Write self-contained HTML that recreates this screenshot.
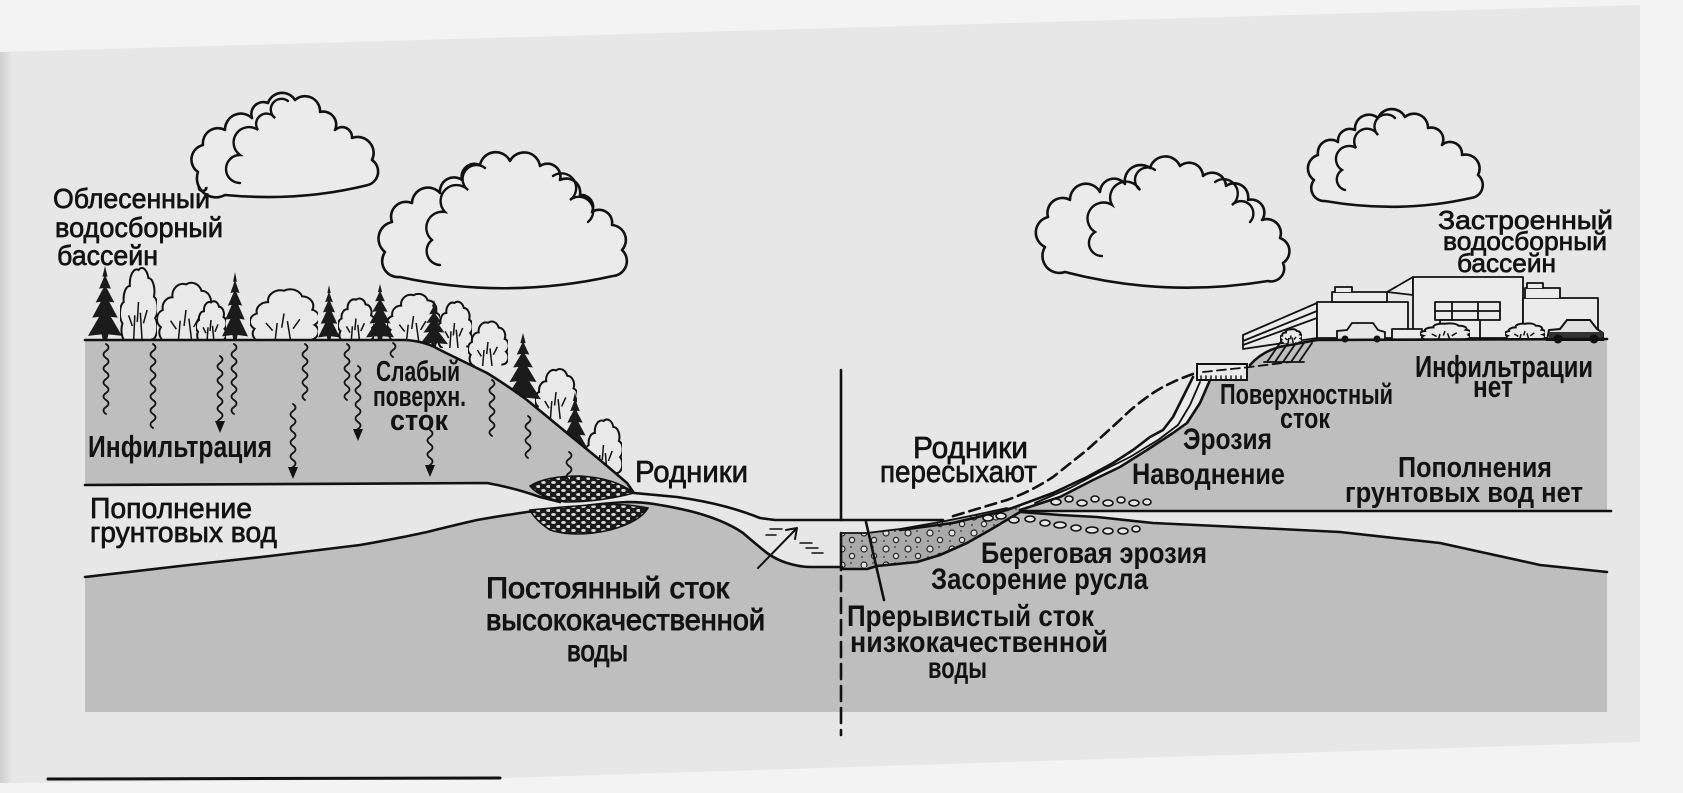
<!DOCTYPE html>
<html><head><meta charset="utf-8">
<style>
html,body{margin:0;padding:0;background:#f3f3f3;}
svg{display:block;}
.r{font-family:"Liberation Sans Narrow","Liberation Sans",sans-serif;fill:#121212;stroke:#121212;stroke-width:0.7;}
.b{font-family:"Liberation Sans Narrow","Liberation Sans",sans-serif;font-weight:bold;fill:#121212;}
.ln{fill:none;stroke:#111;stroke-width:2.6;stroke-linejoin:round;stroke-linecap:round;}
.th{fill:none;stroke:#111;stroke-width:1.8;stroke-linejoin:round;stroke-linecap:round;}
.cl{fill:#ebebeb;stroke:#111;stroke-width:2.6;stroke-linejoin:round;}
.ci{fill:none;stroke:#111;stroke-width:2.4;stroke-linecap:round;}
</style></head><body>
<svg width="1683" height="793" viewBox="0 0 1683 793" xmlns="http://www.w3.org/2000/svg">
<defs>
<symbol id="con" viewBox="0 0 40 100" preserveAspectRatio="none"><path d="M20,0 L23,14 L21,14 L27,30 L22,29 L31,48 L25,47 L35,68 L27,67 L40,92 L24,90 L22,100 L18,100 L16,90 L0,92 L13,67 L5,68 L15,47 L9,48 L18,29 L13,30 L19,14 L17,14 Z" fill="#1b1b1b"/></symbol>
<symbol id="bush" viewBox="0 0 60 60" preserveAspectRatio="none"><path d="M10,60 A9,9 0 0 1 4,46 A9,9 0 0 1 6,30 A10,10 0 0 1 16,18 A11,11 0 0 1 30,6 A11,11 0 0 1 46,12 A10,10 0 0 1 55,26 A9,9 0 0 1 57,42 A9,9 0 0 1 50,58" fill="#e9e9e9" stroke="#111" stroke-width="2" vector-effect="non-scaling-stroke"/><path d="M22,60 L24,40 M36,60 L33,38 M28,45 L30,30 M14,40 L20,48 M44,36 L38,46" stroke="#111" stroke-width="1.5" fill="none" vector-effect="non-scaling-stroke"/></symbol>
<pattern id="peb" width="10" height="8" patternUnits="userSpaceOnUse"><rect width="10" height="8" fill="#1a1a1a"/><ellipse cx="3.5" cy="2.5" rx="2.3" ry="1.5" fill="#d8d8d8"/><ellipse cx="8.5" cy="6.5" rx="2.3" ry="1.5" fill="#d8d8d8"/></pattern>
<pattern id="sed" width="22" height="16" patternUnits="userSpaceOnUse"><rect width="22" height="16" fill="#a9a9a9"/><circle cx="6" cy="5" r="3" fill="#e0e0e0" stroke="#222" stroke-width="1.2"/><circle cx="16" cy="12" r="2.6" fill="#e0e0e0" stroke="#222" stroke-width="1.2"/><circle cx="15" cy="3" r="0.9" fill="#333"/><circle cx="4" cy="13" r="0.9" fill="#333"/></pattern>
<linearGradient id="edge" x1="0" x2="1" y1="0" y2="0"><stop offset="0" stop-color="#cfcfcf"/><stop offset="1" stop-color="#e7e7e7"/></linearGradient>
</defs>

<!-- paper -->
<polygon points="0,52 1640,5 1640,742 505,778 20,783 0,783" fill="#e7e7e7"/>
<rect x="0" y="52" width="12" height="731" fill="url(#edge)"/>

<!-- clouds -->
<path class="cl" d="M225,195 A19,19 0 0 1 198,172 A15,15 0 0 1 203,145 A15,15 0 0 1 225,130 A16,16 0 0 1 252,118 A12,12 0 0 1 268,103 A15,15 0 0 1 295,100 A15,15 0 0 1 320,112 A13,13 0 0 1 335,130 A10,10 0 0 1 352,138 A16,16 0 0 1 372,160 A14,14 0 0 1 368,185 Q300,202 225,195 Z"/>
<path class="ci" d="M288,101 A10,10 0 0 0 275,118 A10,10 0 0 0 258,130 A14,14 0 0 0 240,155 A14,14 0 0 0 240,183"/>

<path class="cl" d="M400,277 A16,16 0 0 1 385,252 A17,17 0 0 1 392,222 A15,15 0 0 1 412,203 A16,16 0 0 1 440,193 A14,14 0 0 1 462,180 A13,13 0 0 1 480,165 A16,16 0 0 1 510,161 A16,16 0 0 1 540,166 A13,13 0 0 1 560,180 A14,14 0 0 1 580,195 A12,12 0 0 1 592,212 A13,13 0 0 1 612,225 A15,15 0 0 1 622,250 A15,15 0 0 1 613,276 Q505,300 400,277 Z"/>
<path class="ci" d="M485,168 A12,12 0 0 0 468,190 A14,14 0 0 0 445,212 A16,16 0 0 0 432,240 A14,14 0 0 0 440,265"/>
<path class="ci" d="M553,176 A12,12 0 0 1 570,200 A12,12 0 0 1 588,222"/>

<path class="cl" d="M1065,272 A17,17 0 0 1 1045,247 A16,16 0 0 1 1048,217 A15,15 0 0 1 1070,200 A16,16 0 0 1 1100,192 A14,14 0 0 1 1125,184 A16,16 0 0 1 1150,168 A16,16 0 0 1 1180,166 A14,14 0 0 1 1203,176 A14,14 0 0 1 1226,186 A14,14 0 0 1 1248,200 A13,13 0 0 1 1262,220 A14,14 0 0 1 1280,238 A14,14 0 0 1 1283,263 A13,13 0 0 1 1268,281 Q1165,298 1065,272 Z"/>
<path class="ci" d="M1155,170 A12,12 0 0 0 1140,190 A13,13 0 0 0 1112,205 A15,15 0 0 0 1095,232 A13,13 0 0 0 1102,256"/>
<path class="ci" d="M1215,182 A12,12 0 0 1 1232,205 A12,12 0 0 1 1250,222"/>

<path class="cl" d="M1325,201 A13,13 0 0 1 1314,180 A14,14 0 0 1 1318,155 A13,13 0 0 1 1338,142 A12,12 0 0 1 1355,130 A14,14 0 0 1 1378,118 A15,15 0 0 1 1405,117 A14,14 0 0 1 1428,128 A12,12 0 0 1 1442,145 A12,12 0 0 1 1462,155 A14,14 0 0 1 1478,175 A13,13 0 0 1 1471,198 Q1400,214 1325,201 Z"/>
<path class="ci" d="M1395,118 A10,10 0 0 0 1378,135 A10,10 0 0 0 1356,148 A12,12 0 0 0 1342,170 A11,11 0 0 0 1345,190"/>

<!-- forest -->
<use href="#bush" x="120" y="262" width="37" height="80"/>
<use href="#bush" x="157" y="278" width="58" height="64"/>
<use href="#bush" x="196" y="298" width="30" height="44"/>
<use href="#bush" x="250" y="285" width="68" height="57"/>
<use href="#bush" x="338" y="295" width="36" height="47"/>
<use href="#bush" x="387" y="290" width="53" height="52"/>
<use href="#bush" x="437" y="298" width="35" height="50"/>
<use href="#bush" x="468" y="318" width="40" height="48"/>
<use href="#bush" x="535" y="365" width="42" height="54"/>
<use href="#bush" x="585" y="415" width="37" height="60"/>
<use href="#con" x="88" y="266" width="34" height="76"/>
<use href="#con" x="222" y="272" width="26" height="70"/>
<use href="#con" x="318" y="285" width="22" height="57"/>
<use href="#con" x="366" y="284" width="28" height="58"/>
<use href="#con" x="420" y="300" width="28" height="48"/>
<use href="#con" x="505" y="333" width="36" height="72"/>
<use href="#con" x="561" y="392" width="28" height="64"/>

<!-- left ground -->
<path fill="#bebebe" d="M85,340 L405,340 Q425,341 440,350 L487,373 Q505,384 527,400 L567,433 L600,460 L627,483 L634,493 L600,498 Q575,502 560,502 Q540,498 520,490 Q505,484 487,483 L85,485 Z"/>
<path fill="#bebebe" d="M85,577 L180,566 L270,556 L360,545 Q400,538 427,532 Q455,525 477,520 Q500,516 527,512 L577,507 Q605,503 627,502 Q645,502 660,505 Q690,510 710,517 Q730,524 743,533 Q757,545 767,553 Q777,560 787,563 Q800,567 810,567 L842,567 L842,712 L85,712 Z"/>

<!-- right hill -->
<path fill="#bebebe" d="M1020,511 L1060,497 L1093,481 L1120,467 L1147,450 L1173,433 L1187,423 L1200,403 L1210,380 L1237,380 L1250,365 Q1265,348 1290,345 L1317,340 L1607,339 L1607,512 Z"/>
<!-- right lower ground -->
<path fill="#bebebe" d="M842,570 L867,569 L877,566 L917,562 L940,555 L967,543 L990,530 L1010,518 L1020,512 L1060,515 L1097,517 L1153,523 L1260,528 L1340,532 L1440,543 L1540,565 L1607,572 L1607,712 L842,712 Z"/>
<!-- sediment -->
<path fill="url(#sed)" d="M842,533 L867,533 L900,529 L940,522 L975,515 L1007,508 L1030,501 L1020,512 L1010,518 L990,530 L967,543 L940,555 L917,562 L877,566 L842,570 Z"/>

<!-- stream ribbon -->
<polygon fill="#ececec" points="1193,377 1183,397 1173,417 1163,430 1150,437 1133,450 1113,463 1087,477 1053,493 1020,506 1020,510 1060,497 1093,480 1120,467 1147,450 1173,433 1187,423 1200,403 1210,380"/>

<!-- buildings -->
<g class="th" style="fill:#ebebeb">
<polygon points="1243,335 1317,303 1317,338 1243,349"/>
<rect x="1317" y="302" width="91" height="36"/>
<path d="M1332,302 L1332,292 L1387,292 L1387,302 Z"/>
<path d="M1335,292 L1335,287 L1352,287 L1352,292"/>
<path d="M1387,292 L1413,277 L1413,295 Z"/>
<rect x="1413" y="277" width="110" height="61"/>
<rect x="1523" y="298" width="75" height="40"/>
<path d="M1525,298 L1525,288 L1560,288 L1560,298"/>
<path d="M1527,288 L1527,283 L1543,283 L1543,288"/>
<rect x="1435" y="302" width="65" height="18"/>
<rect x="1440" y="320" width="40" height="18"/>
<rect x="1392" y="329" width="30" height="11"/>
</g>
<path class="th" d="M1243,341 L1317,311 M1243,345 L1317,318 M1435,311 L1500,311 M1452,302 L1452,320 M1478,302 L1478,320"/>
<path d="M1337,340 L1337,331 L1347,330 L1352,323 L1373,323 L1378,330 L1385,332 L1385,340 Z" fill="#e6e6e6" stroke="#111" stroke-width="1.8"/>
<circle cx="1345" cy="339" r="3.5" fill="#111"/><circle cx="1377" cy="339" r="3.5" fill="#111"/>
<path d="M1547,340 L1549,330 L1560,329 L1567,320 L1590,320 L1597,329 L1603,333 L1603,340 Z" fill="#e0e0e0" stroke="#111" stroke-width="2"/>
<rect x="1549" y="332" width="54" height="8" fill="#333"/>
<circle cx="1558" cy="339" r="4.5" fill="#111"/><circle cx="1594" cy="339" r="4.5" fill="#111"/>
<use href="#bush" x="1280" y="328" width="22" height="15"/>
<use href="#bush" x="1420" y="322" width="50" height="18"/>
<use href="#bush" x="1505" y="322" width="40" height="18"/>
<path class="th" d="M1267,362 L1280,343 M1275,362 L1288,343 M1283,362 L1296,343 M1291,362 L1304,343 M1299,362 L1312,343 M1264,362 L1304,362"/>

<!-- culvert -->
<rect x="1197" y="364" width="50" height="16" fill="#ebebeb" stroke="#111" stroke-width="2"/>
<path class="th" style="stroke-width:1.4" d="M1201,376 v4 M1206,376 v4 M1211,376 v4 M1216,376 v4 M1221,376 v4 M1226,376 v4 M1231,376 v4 M1236,376 v4 M1241,376 v4"/>
<path class="th" stroke-dasharray="9 5" d="M1203,372 L1250,367 L1290,362"/>

<!-- outlines -->
<path class="ln" d="M85,340 L405,340 Q425,341 440,350 L487,373 Q505,384 527,400 L567,433 L600,460 L627,483 L634,493 Q655,495 677,497 Q705,501 727,507 Q745,512 760,518 L775,520 L943,520"/>
<path class="ln" d="M85,485 L487,483 Q515,488 540,497 L560,502"/>
<path class="ln" d="M85,577 L180,566 L270,556 L360,545 Q400,538 427,532 Q455,525 477,520 Q500,516 527,512 L577,507 Q605,503 627,502 Q645,502 660,505 Q690,510 710,517 Q730,524 743,533 Q757,545 767,553 Q777,560 787,563 Q800,567 810,567 L842,567"/>
<path class="ln" d="M841,370 L841,520 M841,533 L841,570 M841,569 L867,569 L877,566 L917,562 L940,555 L967,543 L990,530 L1010,518 L1020,512"/>
<path class="ln" stroke-dasharray="15 7" d="M841,576 L841,735"/>
<path class="th" d="M842,533 L867,533 L900,529 L940,522 L975,515 L1007,508"/>
<path class="ln" d="M1193,377 L1183,397 L1173,417 L1163,430 L1150,437 L1133,450 L1113,463 L1087,477 L1053,493 L1007,510 L953,523 L900,530"/>
<path class="ln" d="M1210,380 L1200,403 L1187,423 L1173,433 L1147,450 L1120,467 L1093,480 L1060,497 L1020,510"/>
<path class="th" d="M1200,382 L1190,405 L1178,425 L1158,440 L1130,457 L1100,472 L1070,488 L1035,503"/>
<path class="ln" stroke-dasharray="11 6" d="M1193,374 Q1170,382 1153,393 Q1135,405 1120,420 L1087,450 L1053,477 Q1030,492 1007,500 L950,517"/>
<path class="ln" d="M1250,365 Q1265,348 1290,345 L1317,340 L1607,339"/>
<path class="ln" d="M1020,511 L1611,511"/>
<path class="ln" d="M1020,512 L1060,515 L1097,517 L1153,523 L1260,528 L1340,532 L1440,543 L1540,565 L1607,572"/>
<path class="ln" d="M866,522 L884,600"/>
<path class="ln" style="stroke-width:3" d="M48,779 L500,778"/>

<!-- pebbles -->
<path fill="url(#peb)" stroke="#111" stroke-width="1.5" d="M530,486 Q545,476 580,476 Q615,478 634,493 Q600,502 565,502 Q540,498 530,486 Z"/>
<path fill="url(#peb)" stroke="#111" stroke-width="1.5" d="M530,510 Q560,507 590,505 Q625,503 648,508 Q640,522 610,530 Q575,538 550,530 Q535,520 530,510 Z"/>
<g fill="#e6e6e6" stroke="#111" stroke-width="1.6">
<ellipse cx="1056" cy="502" rx="5" ry="3"/><ellipse cx="1069" cy="499" rx="4" ry="3"/><ellipse cx="1082" cy="503" rx="5" ry="3"/><ellipse cx="1095" cy="499" rx="4" ry="3"/><ellipse cx="1108" cy="503" rx="5" ry="3"/><ellipse cx="1121" cy="500" rx="4" ry="3"/><ellipse cx="1134" cy="503" rx="5" ry="3"/><ellipse cx="1147" cy="502" rx="4" ry="3"/>
<ellipse cx="988" cy="518" rx="5" ry="3"/><ellipse cx="1001" cy="516" rx="5" ry="3"/><ellipse cx="1014" cy="520" rx="5" ry="3"/><ellipse cx="1030" cy="519" rx="5" ry="3"/><ellipse cx="1045" cy="523" rx="5" ry="3"/><ellipse cx="1060" cy="525" rx="6" ry="3"/><ellipse cx="1076" cy="528" rx="5" ry="3"/><ellipse cx="1092" cy="530" rx="6" ry="3"/><ellipse cx="1108" cy="531" rx="5" ry="3"/><ellipse cx="1123" cy="531" rx="5" ry="3"/><ellipse cx="1136" cy="529" rx="4" ry="3"/>
</g>

<!-- stream water marks and arrow -->
<path class="th" style="stroke-width:1.5" d="M770,529 h12 M766,535 h10 M800,543 h12 M806,548 h12 M812,553 h11"/>
<path class="th" style="stroke-width:2" d="M758,568 L797,528 M786,530 L797,528 L795,539"/>

<!-- infiltration squiggles -->
<g class="th">
<path d="M106,344 q5,3.5 0,7 q-5,3.5 0,7 q5,3.5 0,7 q-5,3.5 0,7 q5,3.5 0,7 q-5,3.5 0,7 q5,3.5 0,7 q-5,3.5 0,7 q5,3.5 0,7 q-5,3.5 0,7"/>
<path d="M153,344 q5,3.5 0,7 q-5,3.5 0,7 q5,3.5 0,7 q-5,3.5 0,7 q5,3.5 0,7 q-5,3.5 0,7 q5,3.5 0,7 q-5,3.5 0,7 q5,3.5 0,7 q-5,3.5 0,7 q5,3.5 0,7 q-5,3.5 0,7"/>
<path d="M220,356 q5,3.5 0,7 q-5,3.5 0,7 q5,3.5 0,7 q-5,3.5 0,7 q5,3.5 0,7 q-5,3.5 0,7 q5,3.5 0,7 q-5,3.5 0,7 q5,3.5 0,7 q-5,3.5 0,7"/>
<path d="M234,344 q5,3.5 0,7 q-5,3.5 0,7 q5,3.5 0,7 q-5,3.5 0,7 q5,3.5 0,7 q-5,3.5 0,7 q5,3.5 0,7 q-5,3.5 0,7 q5,3.5 0,7 q-5,3.5 0,7"/>
<path d="M305,344 q5,3.5 0,7 q-5,3.5 0,7 q5,3.5 0,7 q-5,3.5 0,7 q5,3.5 0,7 q-5,3.5 0,7 q5,3.5 0,7 q-5,3.5 0,7"/>
<path d="M293,404 q5,3.5 0,7 q-5,3.5 0,7 q5,3.5 0,7 q-5,3.5 0,7 q5,3.5 0,7 q-5,3.5 0,7 q5,3.5 0,7 q-5,3.5 0,7 q5,3.5 0,7 q-5,3.5 0,7"/>
<path d="M347,344 q5,3.5 0,7 q-5,3.5 0,7 q5,3.5 0,7 q-5,3.5 0,7 q5,3.5 0,7 q-5,3.5 0,7 q5,3.5 0,7 q-5,3.5 0,7"/>
<path d="M358,366 q5,3.5 0,7 q-5,3.5 0,7 q5,3.5 0,7 q-5,3.5 0,7 q5,3.5 0,7 q-5,3.5 0,7 q5,3.5 0,7 q-5,3.5 0,7 q5,3.5 0,7 q-5,3.5 0,7"/>
<path d="M393,343 q5,3.5 0,7 q-5,3.5 0,7"/>
<path d="M430,430 q5,3.5 0,7 q-5,3.5 0,7 q5,3.5 0,7 q-5,3.5 0,7 q5,3.5 0,7 q-5,3.5 0,7"/>
<path d="M492,380 q5,3.5 0,7 q-5,3.5 0,7 q5,3.5 0,7 q-5,3.5 0,7 q5,3.5 0,7 q-5,3.5 0,7 q5,3.5 0,7 q-5,3.5 0,7"/>
<path d="M528,416 q5,3.5 0,7 q-5,3.5 0,7 q5,3.5 0,7 q-5,3.5 0,7 q5,3.5 0,7 q-5,3.5 0,7"/>
<path d="M569,452 q5,3.5 0,7 q-5,3.5 0,7 q5,3.5 0,7 q-5,3.5 0,7"/>
</g>
<g fill="#111">
<polygon points="215,421 220,433 225,421"/>
<polygon points="288,467 293,479 298,467"/>
<polygon points="353,429 358,441 363,429"/>
<polygon points="425,465 430,477 435,465"/>
</g>

<!-- labels left -->
<text class="r" x="53" y="208" font-size="28" textLength="157" lengthAdjust="spacingAndGlyphs">Облесенный</text>
<text class="r" x="55" y="237" font-size="28" textLength="168" lengthAdjust="spacingAndGlyphs">водосборный</text>
<text class="r" x="57" y="265" font-size="28" textLength="101" lengthAdjust="spacingAndGlyphs">бассейн</text>
<text class="b" x="88" y="457" font-size="31" textLength="184" lengthAdjust="spacingAndGlyphs">Инфильтрация</text>
<text class="b" x="376" y="381" font-size="29" textLength="84" lengthAdjust="spacingAndGlyphs">Слабый</text>
<text class="b" x="373" y="406" font-size="29" textLength="93" lengthAdjust="spacingAndGlyphs">поверхн.</text>
<text class="b" x="390" y="430" font-size="29" textLength="58" lengthAdjust="spacingAndGlyphs">сток</text>
<text class="r" x="90" y="518" font-size="29" textLength="162" lengthAdjust="spacingAndGlyphs">Пополнение</text>
<text class="r" x="90" y="542" font-size="29" textLength="187" lengthAdjust="spacingAndGlyphs">грунтовых вод</text>
<text class="r" x="635" y="482" font-size="31" textLength="113" lengthAdjust="spacingAndGlyphs">Родники</text>
<text class="r" style="stroke-width:1" x="486" y="598" font-size="30" textLength="243" lengthAdjust="spacingAndGlyphs">Постоянный сток</text>
<text class="r" style="stroke-width:1" x="486" y="630" font-size="30" textLength="279" lengthAdjust="spacingAndGlyphs">высококачественной</text>
<text class="r" style="stroke-width:1" x="567" y="661" font-size="30" textLength="61" lengthAdjust="spacingAndGlyphs">воды</text>

<!-- labels right -->
<text class="r" x="913" y="458" font-size="31" textLength="115" lengthAdjust="spacingAndGlyphs">Родники</text>
<text class="r" x="880" y="482" font-size="31" textLength="157" lengthAdjust="spacingAndGlyphs">пересыхают</text>
<text class="b" x="1220" y="404" font-size="29" textLength="173" lengthAdjust="spacingAndGlyphs">Поверхностный</text>
<text class="b" x="1280" y="428" font-size="29" textLength="50" lengthAdjust="spacingAndGlyphs">сток</text>
<text class="b" x="1183" y="449" font-size="30" textLength="89" lengthAdjust="spacingAndGlyphs">Эрозия</text>
<text class="b" x="1132" y="484" font-size="30" textLength="153" lengthAdjust="spacingAndGlyphs">Наводнение</text>
<text class="b" x="1415" y="377" font-size="31" textLength="178" lengthAdjust="spacingAndGlyphs">Инфильтрации</text>
<text class="b" x="1473" y="397" font-size="31" textLength="40" lengthAdjust="spacingAndGlyphs">нет</text>
<text class="b" x="1398" y="477" font-size="29" textLength="154" lengthAdjust="spacingAndGlyphs">Пополнения</text>
<text class="b" x="1345" y="502" font-size="29" textLength="238" lengthAdjust="spacingAndGlyphs">грунтовых вод нет</text>
<text class="b" x="981" y="563" font-size="30" textLength="226" lengthAdjust="spacingAndGlyphs">Береговая эрозия</text>
<text class="b" x="931" y="589" font-size="30" textLength="217" lengthAdjust="spacingAndGlyphs">Засорение русла</text>
<text class="b" x="847" y="626" font-size="30" textLength="247" lengthAdjust="spacingAndGlyphs">Прерывистый сток</text>
<text class="b" x="850" y="652" font-size="30" textLength="258" lengthAdjust="spacingAndGlyphs">низкокачественной</text>
<text class="b" x="928" y="678" font-size="30" textLength="59" lengthAdjust="spacingAndGlyphs">воды</text>
<text class="r" x="1438" y="229" font-size="26" textLength="175" lengthAdjust="spacingAndGlyphs">Застроенный</text>
<text class="r" x="1443" y="250" font-size="26" textLength="164" lengthAdjust="spacingAndGlyphs">водосборный</text>
<text class="r" x="1457" y="272" font-size="26" textLength="99" lengthAdjust="spacingAndGlyphs">бассейн</text>
</svg>
</body></html>
